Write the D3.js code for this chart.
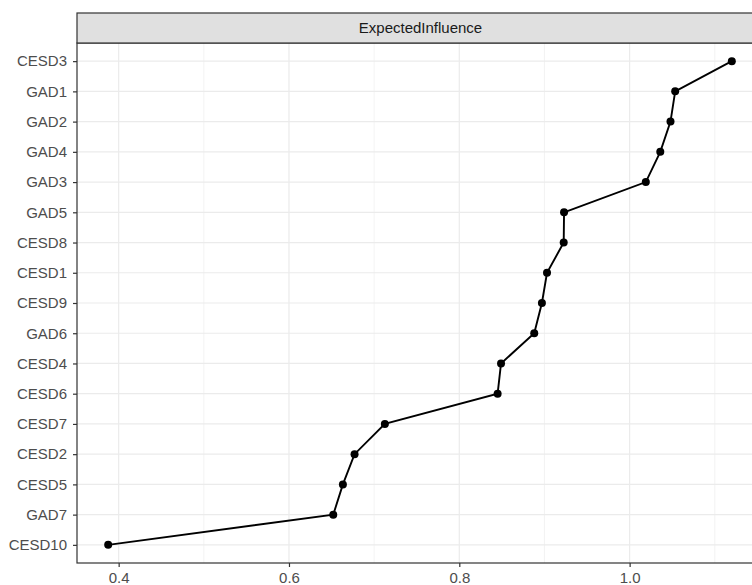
<!DOCTYPE html>
<html>
<head>
<meta charset="utf-8">
<script src="https://cdn.jsdelivr.net/npm/d3@7"></script>
<style>
  body { margin: 0; background: #fff; }
  svg { display: block; font-family: "Liberation Sans", Arial, sans-serif; }
</style>
</head>
<body>
<div id="chart"></div>
<script>
// Knoten (von oben nach unten) und ihre Werte
const nodes = ["CESD3", "GAD1", "GAD2", "GAD4", "GAD3", "GAD5", "CESD8", "CESD1",
  "CESD9", "GAD6", "CESD4", "CESD6", "CESD7", "CESD2", "CESD5", "GAD7", "CESD10"];
const influence = [1.120, 1.0535, 1.048, 1.036, 1.019, 0.923, 0.9226, 0.903,
  0.897, 0.888, 0.849, 0.845, 0.7126, 0.677, 0.6633, 0.652, 0.3877];
const xTicks = [0.4, 0.6, 0.8, 1.0];
const xMinor = [0.3, 0.5, 0.7, 0.9, 1.1];
const stripLabel = "ExpectedInfluence";

const width = 752;
const height = 585;
const margin = { top: 43, right: -11, bottom: 22, left: 77 };
const stripH = 30;

const data = nodes.map((n, i) => ({ node: n, value: influence[i] }));

const svg = d3.select("#chart")
  .append("svg")
  .attr("width", width)
  .attr("height", height);

const pw = width - margin.left - margin.right;
const ph = height - margin.top - margin.bottom;

// Skalen mit ggplot-Expansion
const [mn, mx] = d3.extent(influence);
const pad = (mx - mn) * 0.05;
const x = d3.scaleLinear().domain([mn - pad, mx + pad]).range([0, pw]);
const y = d3.scalePoint().domain(nodes).range([0, ph]).padding(0.6);

const g = svg.append("g").attr("transform", `translate(${margin.left},${margin.top})`);

// Panelhintergrund
g.append("rect").attr("width", pw).attr("height", ph).attr("fill", "#fff");

// Gitterlinien
g.selectAll(".minor").data(xMinor.filter(v => x(v) >= 0 && x(v) <= pw)).enter()
  .append("line")
  .attr("x1", d => x(d)).attr("x2", d => x(d))
  .attr("y1", 0).attr("y2", ph)
  .attr("stroke", "#ebebeb").attr("stroke-width", 0.6);

g.selectAll(".majorx").data(xTicks).enter()
  .append("line")
  .attr("x1", d => x(d)).attr("x2", d => x(d))
  .attr("y1", 0).attr("y2", ph)
  .attr("stroke", "#ebebeb").attr("stroke-width", 1.2);

g.selectAll(".majory").data(nodes).enter()
  .append("line")
  .attr("x1", 0).attr("x2", pw)
  .attr("y1", d => y(d)).attr("y2", d => y(d))
  .attr("stroke", "#ebebeb").attr("stroke-width", 1.2);

// Linie und Punkte
const line = d3.line().x(d => x(d.value)).y(d => y(d.node));
g.append("path")
  .datum(data)
  .attr("d", line)
  .attr("fill", "none")
  .attr("stroke", "#000")
  .attr("stroke-width", 1.9);

g.selectAll(".pt").data(data).enter()
  .append("circle")
  .attr("cx", d => x(d.value))
  .attr("cy", d => y(d.node))
  .attr("r", 4)
  .attr("fill", "#000");

// Panelrahmen
g.append("rect").attr("width", pw).attr("height", ph)
  .attr("fill", "none").attr("stroke", "#333").attr("stroke-width", 1.2);

// Achsen
const xAxis = g.append("g")
  .attr("transform", `translate(0,${ph})`)
  .call(d3.axisBottom(x).tickValues(xTicks).tickFormat(d3.format(".1f")).tickSize(4).tickPadding(5));
const yAxis = g.append("g")
  .call(d3.axisLeft(y).tickSize(4).tickPadding(6));

[xAxis, yAxis].forEach(a => {
  a.select(".domain").remove();
  a.selectAll(".tick line").attr("stroke", "#333").attr("stroke-width", 1.2);
  a.selectAll(".tick text")
    .attr("fill", "#4d4d4d")
    .style("font-size", "15px")
    .style("font-family", "Liberation Sans, Arial, sans-serif");
});

// Streifen (Facet-Label)
const strip = svg.append("g").attr("transform", `translate(${margin.left},${margin.top - stripH})`);
strip.append("rect")
  .attr("width", pw).attr("height", stripH)
  .attr("fill", "#e0e0e0").attr("stroke", "#333").attr("stroke-width", 1.2);
strip.append("text")
  .attr("x", (width - margin.left) / 2 + 6)
  .attr("y", stripH / 2)
  .attr("dy", "0.35em")
  .attr("text-anchor", "middle")
  .attr("fill", "#1a1a1a")
  .style("font-size", "15px")
  .text(stripLabel);
</script>
</body>
</html>
